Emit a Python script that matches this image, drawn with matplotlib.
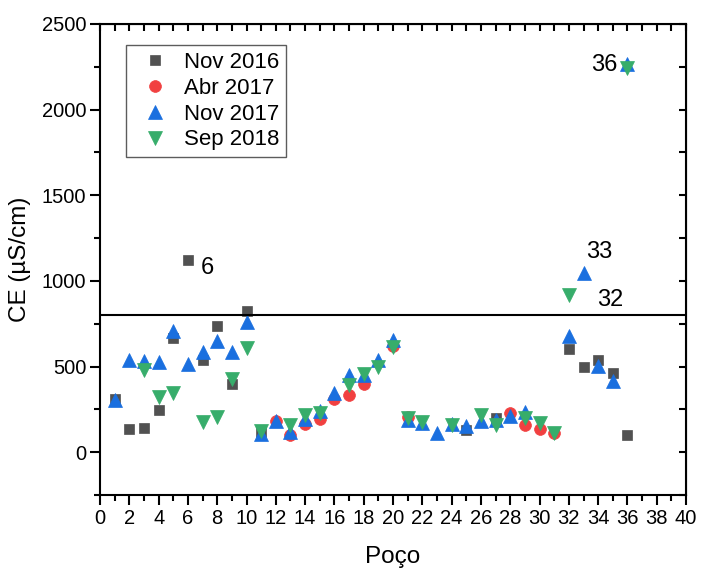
import numpy as np
import matplotlib.pyplot as plt
from matplotlib.ticker import MultipleLocator

plt.rcParams['font.family'] = ['Liberation Sans', 'DejaVu Sans']

nan = np.nan
wells = np.arange(1, 37)

# electrical conductivity (uS/cm) per well and campaign
nov2016 = [310, 133, 142, 249, 664, 1121, 537, 736, 397, 824,
           118, nan, nan, nan, nan, nan, nan, nan, nan, nan,
           nan, nan, nan, nan, 128, nan, 197, nan, nan, nan,
           nan, 600, 498, 537, 460, 103]
abr2017 = [nan, nan, nan, nan, nan, nan, nan, nan, nan, nan,
           nan, 185, 99, 162, 191, 313, 333, 401, nan, 620,
           203, nan, nan, nan, nan, nan, nan, 226, 158, 133,
           113, nan, nan, nan, nan, nan]
nov2017 = [304, 537, 533, 527, 709, 512, 586, 648, 586, 761,
           108, 183, 119, 191, 239, 346, 450, 450, 537, 654,
           187, 168, 113, 162, 154, 183, 190, 210, 232, nan,
           nan, 677, 1047, 504, 417, 2264]
sep2018 = [nan, nan, 479, 323, 346, nan, 177, 203, 426, 609,
           125, nan, 158, 220, 226, nan, 391, 454, 498, 615,
           200, 177, nan, 158, nan, 216, 158, nan, 197, 168,
           110, 917, nan, nan, nan, 2241]

limit = 800
labels = [("6", 6.85, 1075), ("33", 33.2, 1170), ("32", 33.9, 890), ("36", 33.5, 2260)]

series = [
    ("Nov 2016", nov2016, 's', '#515151', 7.5),
    ("Abr 2017", abr2017, 'o', '#F14040', 8.5),
    ("Nov 2017", nov2017, '^', '#1A6FDF', 9.5),
    ("Sep 2018", sep2018, 'v', '#37AD6B', 9.5),
]

fig = plt.figure(figsize=(7.01, 5.69), dpi=100)
ax = fig.add_axes([0.1427, 0.130, 0.836, 0.828])

for name, vals, marker, color, ms in series:
    ax.plot(wells, vals, linestyle='none', marker=marker, color=color,
            markersize=ms, markeredgewidth=0.5, label=name)

ax.axhline(limit, color='black', lw=1.5)

for txt, x, y in labels:
    ax.text(x, y, txt, fontsize=17, ha='left', va='center')

ax.set_xlim(0, 40)
ax.set_ylim(-250, 2500)
ax.xaxis.set_major_locator(MultipleLocator(2))
ax.xaxis.set_minor_locator(MultipleLocator(1))
ax.yaxis.set_major_locator(MultipleLocator(500))
ax.yaxis.set_minor_locator(MultipleLocator(250))
ax.set_yticks([0, 500, 1000, 1500, 2000, 2500])

for side in ax.spines.values():
    side.set_linewidth(1.5)

ax.tick_params(which='both', direction='out', width=1.5, labelsize=14.5,
               top=False, right=False)
ax.tick_params(which='major', length=7, pad=3)
ax.tick_params(which='minor', length=4)

# inward ticks on the top and right frame
axt = ax.secondary_xaxis('top')
axt.xaxis.set_major_locator(MultipleLocator(1))
axt.tick_params(direction='in', length=5, width=1.5, labeltop=False)
axr = ax.secondary_yaxis('right')
axr.yaxis.set_major_locator(MultipleLocator(250))
axr.tick_params(direction='in', length=5, width=1.5, labelright=False)

ax.set_xlabel("Poço", fontsize=17.5, labelpad=13)
ax.set_ylabel("CE (µS/cm)", fontsize=17.5, labelpad=8)

leg = ax.legend(loc='upper left', bbox_to_anchor=(0.044, 0.955), fontsize=16,
                frameon=True, fancybox=False, borderaxespad=0,
                handletextpad=0.3, labelspacing=0.22, borderpad=0.3)
leg.get_frame().set_edgecolor('#333333')
leg.get_frame().set_linewidth(1.0)

plt.savefig("out.png", dpi=100)
